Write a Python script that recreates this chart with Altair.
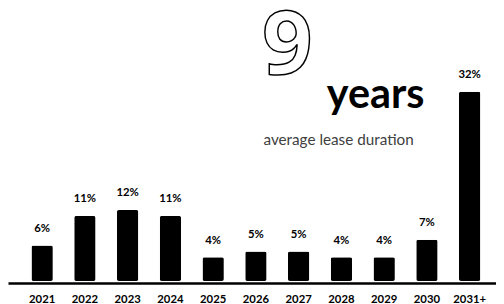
import altair as alt
import pandas as pd

years = ["2021", "2022", "2023", "2024", "2025", "2026", "2027", "2028", "2029", "2030", "2031+"]
shares = [6, 11, 12, 11, 4, 5, 5, 4, 4, 7, 32]
labels = [f"{v}%" for v in shares]

big_number = ["9"]
unit_text = ["years"]
caption_text = ["average lease duration"]

df = pd.DataFrame({"year": years, "share": shares, "label": labels})

x = alt.X(
    "year:N",
    sort=years,
    scale=alt.Scale(paddingInner=0.5, paddingOuter=0.457, align=0.6),
    axis=alt.Axis(
        title=None, labelAngle=0, ticks=False, domainColor="black", domainWidth=2.5,
        offset=2, labelFont="Lato", labelFontWeight="bold", labelFontSize=11.5,
        labelColor="black", labelPadding=11,
    ),
)
y = alt.Y("share:Q", scale=alt.Scale(domain=[0, 45.75], nice=False, zero=True), axis=None)

bars = alt.Chart(df).mark_bar(color="black", cornerRadius=2).encode(x=x, y=y)
text = alt.Chart(df).mark_text(
    font="Lato", fontWeight="bold", fontSize=11.5, baseline="alphabetic", dy=-14, color="black"
).encode(x=x, y=y, text="label")

nine = alt.Chart(pd.DataFrame({"t": big_number})).mark_text(
    font="Open Sans", fontWeight=700, fontSize=90, fill="white", stroke="black", strokeWidth=1.5,
    align="center", baseline="alphabetic",
).encode(x=alt.value(284), y=alt.value(65), text="t:N")

years_txt = alt.Chart(pd.DataFrame({"t": unit_text})).mark_text(
    font="Lato", fontWeight="bold", fontSize=42, color="black",
    align="left", baseline="alphabetic",
).encode(x=alt.value(324), y=alt.value(99), text="t:N")

caption = alt.Chart(pd.DataFrame({"t": caption_text})).mark_text(
    font="Lato", fontSize=15.5, color="#404040",
    align="center", baseline="alphabetic",
).encode(x=alt.value(336), y=alt.value(137), text="t:N")

chart = alt.layer(bars, text, nine, years_txt, caption).properties(
    width=496, height=275,
    autosize=alt.AutoSizeParams(type="none"),
    padding={"left": 0, "top": 0, "right": 0, "bottom": 30},
).configure_view(stroke=None)

chart.save("out.html", embed_options={"renderer": "svg", "actions": False})
